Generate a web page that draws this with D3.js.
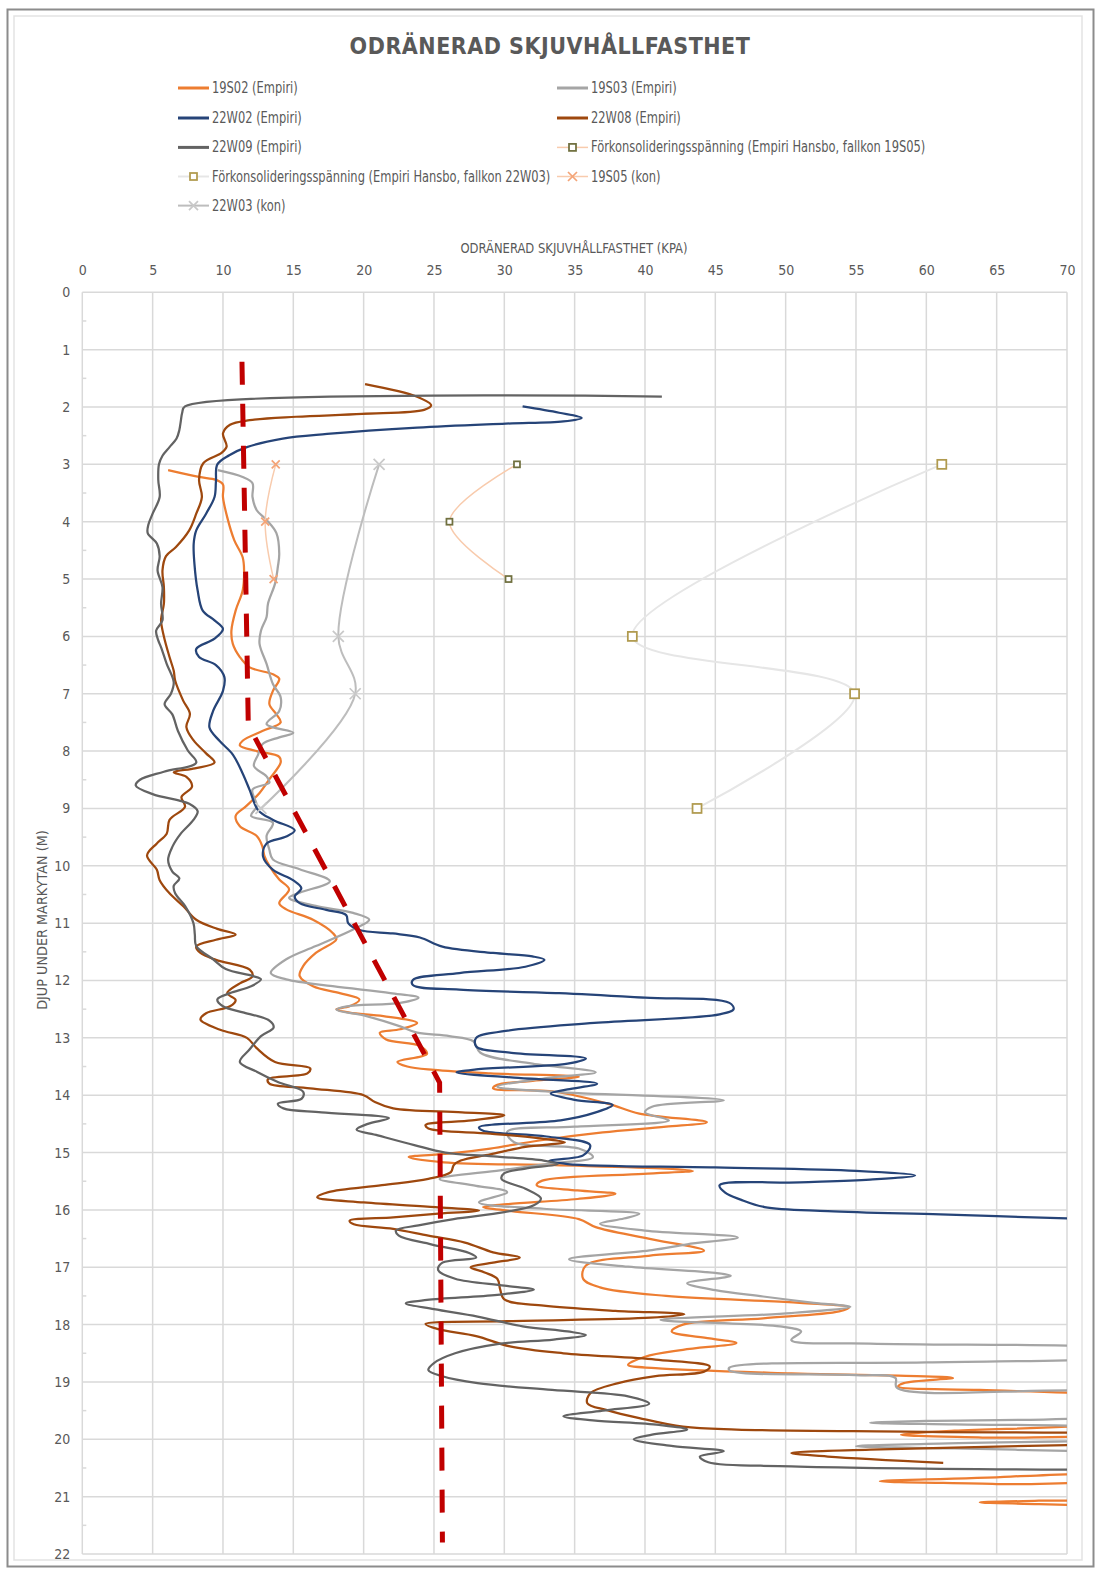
<!DOCTYPE html>
<html>
<head>
<meta charset="utf-8">
<script src="https://cdn.jsdelivr.net/npm/d3@7/dist/d3.min.js"></script>
<style>
body { margin: 0; background: #fff; }
svg text { font-family: "Liberation Sans Narrow", "Arial Narrow", "DejaVu Sans Condensed", sans-serif; fill: #595959; }
</style>
</head>
<body>
<div class="chart"></div>
<script>
// every point is [depth (m), undrained shear strength (kPa)]
var s19S02 = [[3.1,6.1],[3.22,8.3],[3.27,9.5],[3.35,10.0],[3.57,10.0],[3.92,10.3],[4.32,10.8],[4.62,11.4],[4.85,11.5],[5.2,11.4],[5.55,10.9],[5.9,10.6],[6.13,10.7],[6.36,11.2],[6.54,11.9],[6.66,13.55],[6.74,14.0],[6.95,13.55],[7.18,13.3],[7.36,13.8],[7.5,14.1],[7.65,12.8],[7.82,11.4],[7.9,11.2],[8.0,12.4],[8.1,14.0],[8.2,14.1],[8.49,13.3],[8.73,12.6],[8.96,11.65],[9.13,10.9],[9.31,11.2],[9.48,12.4],[9.66,12.8],[9.83,12.95],[10.0,13.3],[10.24,14.0],[10.41,14.7],[10.65,14.0],[10.76,14.5],[10.94,16.4],[11.17,17.8],[11.28,18.06],[11.52,16.6],[11.75,15.7],[11.92,15.45],[12.1,16.4],[12.22,18.3],[12.33,19.7],[12.45,19.0],[12.5,18.06],[12.56,19.0],[12.62,21.4],[12.74,23.8],[12.85,22.6],[12.91,21.15],[13.03,21.6],[13.14,24.0],[13.28,24.5],[13.42,22.4],[13.5,23.1],[13.56,25.0],[13.62,29.0],[13.68,35.3],[13.75,32.0],[13.82,29.5],[13.88,29.2],[13.94,33.6],[14.15,37.4],[14.32,39.6],[14.47,44.4],[14.55,41.5],[14.65,37.0],[14.79,32.5],[14.93,29.0],[15.02,26.0],[15.08,23.2],[15.17,25.7],[15.22,33.6],[15.28,41.5],[15.32,43.4],[15.37,39.9],[15.49,32.7],[15.57,32.3],[15.66,35.2],[15.72,37.9],[15.81,35.2],[15.9,30.2],[15.95,28.5],[16.02,30.5],[16.16,35.3],[16.3,36.5],[16.5,40.25],[16.71,44.2],[16.8,40.25],[16.97,35.8],[17.2,35.6],[17.35,36.8],[17.5,41.5],[17.62,51.0],[17.7,54.5],[17.77,53.8],[17.89,48.4],[18.0,42.7],[18.12,41.9],[18.24,44.6],[18.32,46.5],[18.44,42.7],[18.56,40.0],[18.7,38.8],[18.76,40.75],[18.85,50.4],[18.89,58.0],[18.93,61.9],[19.02,58.4],[19.08,58.0],[19.14,63.8],[19.22,72],[19.5,80],[19.75,72],[19.85,62],[19.92,58.2],[19.97,64],[20.02,75],[20.4,80],[20.65,66],[20.73,56.7],[20.78,65],[20.85,75],[21.0,75],[21.07,68],[21.1,63.8],[21.13,68],[21.18,75]];

var s19S03 = [[3.1,9.63],[3.22,11.4],[3.33,12.1],[3.57,12.1],[3.8,12.4],[3.97,13.1],[4.2,13.8],[4.56,14.0],[4.79,13.9],[5.08,13.7],[5.43,13.2],[5.66,13.1],[5.9,12.7],[6.13,12.6],[6.48,13.1],[6.83,13.55],[7.06,14.1],[7.3,14.0],[7.53,13.1],[7.68,15.0],[7.76,14.0],[7.88,12.8],[8.06,12.5],[8.26,12.2],[8.44,13.1],[8.55,13.3],[8.67,12.1],[8.96,12.4],[9.13,12.0],[9.25,13.55],[9.48,13.1],[9.72,13.3],[9.89,13.55],[10.06,15.45],[10.27,17.6],[10.47,15.45],[10.56,14.7],[10.7,16.6],[10.82,19.25],[10.94,20.4],[11.11,19.25],[11.4,16.6],[11.63,14.5],[11.87,13.4],[11.98,14.5],[12.1,17.8],[12.22,21.9],[12.3,23.9],[12.39,22.6],[12.45,18.8],[12.51,18.06],[12.62,20.2],[12.8,22.6],[12.91,23.8],[12.97,26.1],[13.06,27.8],[13.26,28.3],[13.45,32],[13.6,36.5],[13.7,33],[13.85,29.5],[13.94,33.6],[14.09,45.6],[14.2,40.5],[14.3,40.0],[14.44,41.7],[14.55,35.0],[14.64,30.2],[14.82,30.7],[14.93,35.3],[15.08,36.3],[15.2,33.0],[15.31,29.7],[15.46,25.4],[15.58,28.0],[15.69,30.2],[15.87,28.2],[15.98,32.8],[16.07,39.6],[16.15,38.5],[16.24,36.8],[16.36,40.0],[16.48,46.6],[16.6,43.0],[16.7,40.5],[16.86,34.6],[16.99,38.8],[17.1,45.0],[17.15,46.1],[17.28,43.0],[17.4,45.0],[17.51,48.4],[17.62,52.0],[17.69,54.6],[17.8,50.4],[17.92,41.1],[18.03,49.6],[18.12,51.1],[18.27,50.4],[18.33,56],[18.38,72],[18.5,80],[18.61,72],[18.66,60],[18.75,46],[18.8,46],[18.88,55],[18.93,57.8],[19.1,57.9],[19.16,72],[19.4,80],[19.62,72],[19.68,60],[19.71,56],[19.74,62],[19.78,72],[19.95,80],[20.08,60],[20.12,55],[20.16,62],[20.21,72]];

var s22W02 = [[1.99,31.3],[2.1,33.9],[2.19,35.5],[2.25,34.2],[2.29,30.1],[2.36,23.8],[2.47,17.4],[2.55,14.25],[2.7,11.7],[2.84,10.45],[3.0,9.6],[3.3,9.5],[3.57,9.4],[3.86,8.8],[4.15,8.1],[4.38,7.92],[4.73,7.97],[5.2,8.2],[5.55,8.56],[5.72,9.4],[5.87,10.0],[6.04,9.4],[6.22,8.1],[6.36,8.3],[6.5,9.5],[6.71,10.1],[6.95,10.0],[7.3,9.3],[7.59,9.04],[7.82,9.75],[8.06,10.7],[8.39,11.4],[8.68,11.9],[9.03,12.5],[9.2,13.56],[9.38,15.1],[9.49,14.5],[9.61,13.1],[9.84,12.85],[10.07,13.56],[10.25,14.98],[10.39,15.57],[10.54,15.1],[10.65,15.45],[10.77,17.34],[10.86,18.76],[11.0,18.9],[11.12,19.7],[11.18,22.07],[11.25,24.0],[11.41,25.6],[11.52,29.2],[11.58,32.0],[11.64,32.85],[11.76,31.5],[11.87,26.8],[11.99,23.5],[12.08,23.5],[12.16,26.8],[12.22,33.9],[12.3,40],[12.39,46.0],[12.5,46.3],[12.59,45.3],[12.74,36.4],[12.88,30.1],[13.0,28.0],[13.15,28.0],[13.26,30.5],[13.36,35.8],[13.45,34.5],[13.55,28.0],[13.6,26.6],[13.7,31.0],[13.8,36.6],[13.9,34.5],[13.97,33.3],[14.08,35.0],[14.17,37.7],[14.3,36.5],[14.44,34.0],[14.56,28.2],[14.62,28.5],[14.72,33.0],[14.87,36.1],[15.05,35.6],[15.14,33.2],[15.2,34.5],[15.26,45.0],[15.32,55.0],[15.4,59.2],[15.47,56.0],[15.52,51.0],[15.57,45.3],[15.7,45.7],[15.82,46.8],[15.95,48.5],[16.02,53.0],[16.08,61.0],[16.15,70.5]];

var s22W08 = [[1.6,20.1],[1.82,23.8],[1.97,24.8],[2.05,24.3],[2.12,19.9],[2.17,15.2],[2.23,11.9],[2.31,10.5],[2.46,10.0],[2.69,10.26],[2.8,9.9],[2.98,8.6],[3.27,8.3],[3.57,8.5],[3.86,8.1],[4.15,7.6],[4.44,6.66],[4.6,5.95],[4.85,5.7],[5.14,5.8],[5.43,5.8],[5.72,5.6],[6.0,5.8],[6.36,6.2],[6.6,6.5],[6.77,6.6],[7.12,7.17],[7.35,7.65],[7.58,7.4],[7.81,7.9],[8.04,8.8],[8.2,9.4],[8.3,8.0],[8.37,6.5],[8.45,7.4],[8.62,7.8],[8.8,7.05],[8.97,7.3],[9.2,6.2],[9.44,6.0],[9.61,5.3],[9.82,4.6],[10.07,5.3],[10.25,5.5],[10.48,6.2],[10.71,7.2],[10.94,8.1],[11.1,9.6],[11.2,10.9],[11.29,9.5],[11.41,8.1],[11.52,8.4],[11.64,9.5],[11.81,11.9],[11.93,12.1],[12.05,11.2],[12.22,10.3],[12.34,10.9],[12.45,10.5],[12.57,8.8],[12.68,8.4],[12.86,9.8],[13.0,11.7],[13.18,12.4],[13.42,13.7],[13.53,16.2],[13.62,16.0],[13.72,13.2],[13.8,13.3],[13.88,16.2],[14.0,20.0],[14.12,20.8],[14.23,22.1],[14.3,27],[14.35,30.0],[14.44,27.7],[14.52,24.4],[14.58,24.6],[14.67,29.0],[14.76,32.8],[14.82,34.3],[14.9,31.5],[15.03,29.0],[15.14,26.9],[15.22,26.4],[15.34,26.2],[15.46,24.6],[15.57,21.3],[15.69,17.5],[15.78,16.7],[15.87,20.0],[15.95,25.1],[16.01,28.2],[16.07,25.1],[16.13,22.1],[16.19,19.0],[16.25,19.3],[16.33,22.1],[16.45,24.6],[16.57,27.2],[16.74,29.2],[16.83,31.1],[16.92,29.2],[17.0,27.6],[17.09,28.6],[17.2,29.5],[17.38,29.7],[17.56,30.0],[17.67,32.8],[17.76,37.9],[17.82,42.8],[17.88,40.4],[17.94,30.2],[17.99,24.4],[18.08,25.3],[18.2,28.0],[18.38,30.4],[18.5,34.2],[18.61,40.75],[18.73,44.6],[18.82,44.2],[18.9,40.75],[19.02,38.1],[19.2,36.1],[19.37,35.9],[19.49,37.3],[19.63,39.6],[19.78,42.7],[19.83,46.5],[19.87,60],[19.92,75],[20.02,78],[20.1,70],[20.18,56],[20.24,50.4],[20.3,53],[20.41,61.2]];

var s22W09 = [[1.82,41.2],[1.99,7.3],[2.1,7.1],[2.25,7.0],[2.4,6.9],[2.55,6.7],[2.7,6.2],[2.85,5.7],[3.0,5.45],[3.27,5.4],[3.57,5.5],[3.86,5.0],[4.05,4.7],[4.2,4.65],[4.38,5.3],[4.6,5.5],[4.85,5.35],[5.14,5.7],[5.43,5.6],[5.72,5.7],[5.9,5.25],[6.07,5.4],[6.19,5.6],[6.48,6.0],[6.8,6.5],[7.0,6.3],[7.18,5.85],[7.36,6.4],[7.65,6.8],[7.99,7.5],[8.2,8.1],[8.36,5.8],[8.5,4.1],[8.6,3.8],[8.75,5.0],[8.92,7.6],[9.05,8.2],[9.2,7.9],[9.44,7.0],[9.67,6.4],[9.9,6.1],[10.1,6.4],[10.22,6.9],[10.35,6.5],[10.48,6.6],[10.7,7.3],[11.0,7.9],[11.2,8.0],[11.4,8.1],[11.63,9.3],[11.8,10.2],[11.92,12.1],[11.98,12.7],[12.1,12.0],[12.22,10.5],[12.33,9.6],[12.45,10.0],[12.56,11.5],[12.7,13.3],[12.82,13.6],[12.97,12.7],[13.2,11.9],[13.42,11.2],[13.59,12.4],[13.77,13.9],[13.94,15.7],[14.06,15.6],[14.15,13.9],[14.23,14.3],[14.3,17.0],[14.4,21.8],[14.5,20.3],[14.6,19.5],[14.7,21.0],[14.87,23.6],[15.0,25.8],[15.07,29.5],[15.14,32.8],[15.2,33.8],[15.28,31.5],[15.36,30.0],[15.46,29.8],[15.63,31.5],[15.8,32.6],[15.92,32.1],[16.04,30.0],[16.16,26.4],[16.27,23.9],[16.36,22.3],[16.45,22.5],[16.6,24.8],[16.75,27.5],[16.83,28.0],[16.92,25.6],[17.05,25.3],[17.2,26.5],[17.32,30.0],[17.39,32.1],[17.48,29.5],[17.57,24.5],[17.63,23.0],[17.73,25.0],[17.86,28.1],[18.03,31.3],[18.12,34.5],[18.18,35.8],[18.26,33.5],[18.34,29.5],[18.5,26.5],[18.67,25.0],[18.79,24.6],[18.9,25.6],[19.02,28.1],[19.14,33.4],[19.25,38.8],[19.38,40.3],[19.5,37.0],[19.6,34.2],[19.67,36.3],[19.75,41.0],[19.83,43.0],[19.92,40.5],[20.0,39.2],[20.12,42.0],[20.21,45.6],[20.3,43.9],[20.4,44.5],[20.47,50.4],[20.53,70.0]];

var forkons19S05 = [[3,30.9],[4,26.1],[5,30.3]];
var forkons22W03 = [[3,61.1],[6,39.1],[7,54.9],[9,43.7]];
var kon19S05 = [[3,13.75],[4,13.0],[5,13.6]];
var kon22W03 = [[3,21.1],[6,18.2],[7,19.4],[9,12.7]];

// hand drawn red guide line
var guideLine = [[1.21,11.35],[7.55,11.8],[13.78,25.4],[21.8,25.6]];

var xTicks = d3.range(0, 71, 5);
var yTicks = d3.range(0, 23, 1);

var seriesNames = ["19S02 (Empiri)", "19S03 (Empiri)", "22W02 (Empiri)", "22W08 (Empiri)", "22W09 (Empiri)",
	"Förkonsolideringsspänning (Empiri Hansbo, fallkon 19S05)",
	"Förkonsolideringsspänning (Empiri Hansbo, fallkon 22W03)",
	"19S05 (kon)", "22W03 (kon)"];

var series = [
	{name: seriesNames[0], data: s19S02, color: "#ED7D31", w: 2.25},
	{name: seriesNames[1], data: s19S03, color: "#A5A5A5", w: 2.25},
	{name: seriesNames[2], data: s22W02, color: "#264478", w: 2.25},
	{name: seriesNames[3], data: s22W08, color: "#9E480E", w: 2.25},
	{name: seriesNames[4], data: s22W09, color: "#636363", w: 2.25},
	{name: seriesNames[5], data: forkons19S05, color: "#F8CBAD", w: 1.5, marker: "square", mcolor: "#70703F", msize: 6},
	{name: seriesNames[6], data: forkons22W03, color: "#E6E6E6", w: 2, marker: "square", mcolor: "#B09A4E", msize: 9},
	{name: seriesNames[7], data: kon19S05, color: "#F8CBAD", w: 1.5, marker: "x", mcolor: "#F4A477", msize: 8},
	{name: seriesNames[8], data: kon22W03, color: "#BDBDBD", w: 2, marker: "x", mcolor: "#C9C9C9", msize: 11}
];

// squeeze a text horizontally, the page has no narrow font
function narrowText(parent, x, y, sx, size, str, anchor) {
	return parent.append("text")
		.attr("transform", "translate(" + x + "," + y + ") scale(" + sx + ",1)")
		.attr("text-anchor", anchor || "start")
		.style("font-size", size + "px")
		.text(str);
}

function drawChart() {
	var sel = d3.select(".chart").html("");
	var W = 1098, H = 1573;

	var svg = sel.append("svg")
		.attr("width", W)
		.attr("height", H);

	// outer frame
	svg.append("rect").attr("x", 7.5).attr("y", 9.5).attr("width", 1086).attr("height", 1557)
		.attr("fill", "none").attr("stroke", "#8c8c8c").attr("stroke-width", 2);
	svg.append("rect").attr("x", 14).attr("y", 16).attr("width", 1068).attr("height", 1544)
		.attr("fill", "none").attr("stroke", "#e3e3e3").attr("stroke-width", 1.5);

	var margin = {top: 292.3, right: W - 1067, bottom: H - 1554, left: 82.3};
	var width = W - margin.left - margin.right;
	var height = H - margin.top - margin.bottom;

	var x = d3.scaleLinear().domain([0, 70]).range([0, width]);
	var y = d3.scaleLinear().domain([0, 22]).range([0, height]);

	var g = svg.append("g").attr("transform", "translate(" + margin.left + "," + margin.top + ")");

	// grid
	g.append("g").selectAll("line").data(xTicks).enter().append("line")
		.attr("x1", d => x(d)).attr("x2", d => x(d)).attr("y1", 0).attr("y2", height)
		.attr("stroke", "#d9d9d9").attr("stroke-width", 1.5);
	g.append("g").selectAll("line").data(yTicks).enter().append("line")
		.attr("x1", 0).attr("x2", width).attr("y1", d => y(d)).attr("y2", d => y(d))
		.attr("stroke", "#d9d9d9").attr("stroke-width", 1.5);
	// minor ticks on the depth axis
	g.append("g").selectAll("line").data(d3.range(0.5, 22, 1)).enter().append("line")
		.attr("x1", 0).attr("x2", 4).attr("y1", d => y(d)).attr("y2", d => y(d))
		.attr("stroke", "#d9d9d9").attr("stroke-width", 1.5);

	// axes
	var xAxis = d3.axisTop(x).tickValues(xTicks).tickSize(0).tickPadding(17);
	var yAxis = d3.axisLeft(y).tickValues(yTicks).tickSize(0).tickPadding(12);

	g.append("g").attr("class", "x axis").call(xAxis)
		.call(a => a.select(".domain").remove())
		.selectAll("text").style("font-size", "14px").attr("fill", "#595959");
	g.append("g").attr("class", "y axis").call(yAxis)
		.call(a => a.select(".domain").remove())
		.selectAll("text").style("font-size", "14px").attr("fill", "#595959");

	narrowText(svg, 574, 253, 0.92, 14, "ODRÄNERAD SKJUVHÅLLFASTHET (KPA)", "middle");
	svg.append("text").attr("transform", "translate(47,920) rotate(-90) scale(1.02,1)").attr("text-anchor", "middle")
		.style("font-size", "14px").text("DJUP UNDER MARKYTAN (M)");

	svg.append("text").attr("x", 550).attr("y", 54).attr("text-anchor", "middle")
		.style("font-size", "23px").style("font-weight", "bold").style("letter-spacing", "0.5px")
		.text("ODRÄNERAD SKJUVHÅLLFASTHET");

	// plot
	svg.append("clipPath").attr("id", "plotclip").append("rect")
		.attr("width", width).attr("height", height);

	var line = d3.line()
		.x(d => x(d[1]))
		.y(d => y(d[0]))
		.curve(d3.curveCatmullRom.alpha(0.5));

	var plot = g.append("g").attr("clip-path", "url(#plotclip)");

	series.forEach(function(s) {
		plot.append("path").datum(s.data)
			.attr("d", line)
			.attr("fill", "none")
			.attr("stroke", s.color)
			.attr("stroke-width", s.w)
			.attr("stroke-linejoin", "round");
	});

	function drawMarker(sel, s, cx, cy) {
		var r = s.msize / 2;
		if (s.marker == "square") {
			sel.append("rect").attr("x", cx - r).attr("y", cy - r).attr("width", s.msize).attr("height", s.msize)
				.attr("fill", "#fff").attr("stroke", s.mcolor).attr("stroke-width", 1.75);
		} else {
			sel.append("path").attr("d", "M" + (cx - r) + "," + (cy - r) + "L" + (cx + r) + "," + (cy + r) +
				"M" + (cx - r) + "," + (cy + r) + "L" + (cx + r) + "," + (cy - r))
				.attr("stroke", s.mcolor).attr("stroke-width", 1.75).attr("fill", "none");
		}
	}

	series.filter(s => s.marker).forEach(function(s) {
		s.data.forEach(function(d) { drawMarker(g, s, x(d[1]), y(d[0])); });
	});

	// red guide
	g.append("path").datum(guideLine)
		.attr("d", d3.line().x(d => x(d[1])).y(d => y(d[0])))
		.attr("fill", "none").attr("stroke", "#C00000").attr("stroke-width", 5)
		.attr("stroke-dasharray", "23,19");

	// legend
	var legX = [178, 557];
	var legY = [88, 118, 147.4, 176.5, 205.6];
	series.forEach(function(s, i) {
		var lx = legX[i % 2], ly = legY[Math.floor(i / 2)];
		var lg = svg.append("g");
		lg.append("line").attr("x1", lx).attr("x2", lx + 31).attr("y1", ly).attr("y2", ly)
			.attr("stroke", s.color).attr("stroke-width", s.marker ? s.w : 3);
		if (s.marker) drawMarker(lg, {marker: s.marker, mcolor: s.mcolor, msize: s.marker == "x" ? 9 : 7}, lx + 15.5, ly);
		narrowText(lg, lx + 34, ly + 5, 0.85, 15, s.name);
	});
}

drawChart();
</script>
</body>
</html>
